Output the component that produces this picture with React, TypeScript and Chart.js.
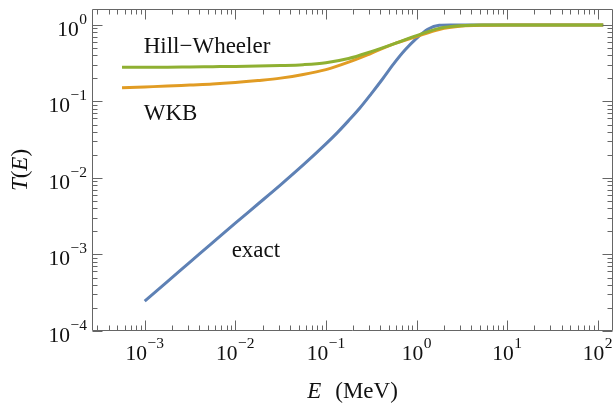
import React, { useEffect, useRef } from 'react';
import { Chart, registerables } from 'chart.js';

Chart.register(...registerables);

// ---- data ----
const energyApprox = [5.62e-4, 1e-3, 1.78e-3, 3.16e-3, 5.62e-3, 0.01, 0.0178, 0.0316, 0.0562, 0.1, 0.178, 0.316, 0.562, 1, 1.78, 3.16, 5.62, 10, 115];
const hillWheeler = [0.28, 0.28, 0.281, 0.283, 0.285, 0.287, 0.29, 0.295, 0.303, 0.321, 0.364, 0.448, 0.566, 0.726, 0.904, 0.979, 0.998, 1.0, 1.0];
const wkb = [0.151, 0.155, 0.159, 0.164, 0.169, 0.177, 0.188, 0.202, 0.225, 0.261, 0.327, 0.427, 0.566, 0.708, 0.875, 0.967, 0.993, 1.0, 1.0];
const energyExact = [1e-3, 1.78e-3, 3.16e-3, 5.62e-3, 0.01, 0.0178, 0.0316, 0.0562, 0.1, 0.133, 0.178, 0.237, 0.316, 0.422, 0.562, 0.75, 1, 1.33, 1.78, 2.37, 3.16, 10, 115];
const exact = [2.45e-4, 4.42e-4, 7.94e-4, 1.43e-3, 2.57e-3, 4.57e-3, 8.13e-3, 0.0148, 0.0279, 0.0389, 0.0562, 0.0822, 0.1259, 0.1968, 0.312, 0.473, 0.668, 0.879, 0.991, 1.0, 1.0, 1.0, 1.0];

// tick labels (powers of ten)
const xTickExponents = [-3, -2, -1, 0, 1, 2];
const yTickExponents = [-4, -3, -2, -1, 0];

// curve labels: [text, E, T] (left end of baseline)
const curveLabels: [string, number, number][] = [
  ['Hill\u2212Wheeler', 1e-3, 0.43],
  ['WKB', 1e-3, 0.0573],
  ['exact', 9.35e-3, 9.4e-4],
];

const X_MIN = 2.62e-4;
const X_MAX = 147.5;
const Y_MIN = 1e-4;
const Y_MAX = 1.618;

const BLUE = '#5E81B5';
const ORANGE = '#E19C24';
const GREEN = '#8FB032';
const FRAME = '#666666';
const TEXT = '#111111';
const FONT = '"Liberation Serif", "DejaVu Serif", serif';

function minorTicks(min: number, max: number): number[] {
  const out: number[] = [];
  for (let n = Math.floor(Math.log10(min)); n <= Math.ceil(Math.log10(max)); n++) {
    for (let k = 2; k <= 9; k++) {
      const v = k * Math.pow(10, n);
      if (v >= min && v <= max) out.push(v);
    }
  }
  return out;
}

function expText(e: number): string {
  return e < 0 ? '\u2212' + String(-e) : String(e);
}

function drawPower(ctx: CanvasRenderingContext2D, e: number, ax: number, baseline: number, align: 'center' | 'right') {
  const main = `21.5px ${FONT}`;
  const sup = `15.5px ${FONT}`;
  ctx.font = main;
  const w1 = ctx.measureText('10').width;
  ctx.font = sup;
  const s = expText(e);
  const w2 = ctx.measureText(s).width;
  const total = w1 + w2 + 0.5;
  const start = align === 'center' ? ax - total / 2 : ax - total;
  ctx.textAlign = 'left';
  ctx.textBaseline = 'alphabetic';
  ctx.font = main;
  ctx.fillText('10', start, baseline);
  ctx.font = sup;
  ctx.fillText(s, start + w1 + 0.5, baseline - 12);
}

const framePlugin = {
  id: 'mmaFrame',
  afterDraw(chart: any) {
    const { ctx, chartArea } = chart;
    const { left, right, top, bottom } = chartArea;
    const xs = chart.scales.x;
    const ys = chart.scales.y;
    const L = Math.round(left) + 0.5;
    const R = Math.round(right) - 0.5;
    const T = Math.round(top) + 0.5;
    const B = Math.round(bottom) - 0.5;
    ctx.save();
    ctx.strokeStyle = FRAME;
    ctx.lineWidth = 1;
    ctx.beginPath();
    ctx.rect(L, T, R - L, B - T);
    ctx.stroke();
    const tick = (len: number, pos: number, horizontal: boolean) => {
      const p = Math.round(pos) + 0.5;
      ctx.beginPath();
      if (horizontal) {
        ctx.moveTo(p, B); ctx.lineTo(p, B - len);
        ctx.moveTo(p, T); ctx.lineTo(p, T + len);
      } else {
        ctx.moveTo(L, p); ctx.lineTo(L + len, p);
        ctx.moveTo(R, p); ctx.lineTo(R - len, p);
      }
      ctx.stroke();
    };
    xTickExponents.forEach((e) => tick(10, xs.getPixelForValue(Math.pow(10, e)), true));
    minorTicks(X_MIN, X_MAX).forEach((v) => tick(5, xs.getPixelForValue(v), true));
    yTickExponents.forEach((e) => tick(10, ys.getPixelForValue(Math.pow(10, e)), false));
    minorTicks(Y_MIN, Y_MAX).forEach((v) => tick(5, ys.getPixelForValue(v), false));

    ctx.fillStyle = TEXT;
    xTickExponents.forEach((e) => drawPower(ctx, e, xs.getPixelForValue(Math.pow(10, e)), bottom + 29, 'center'));
    yTickExponents.forEach((e) => drawPower(ctx, e, left - 5, ys.getPixelForValue(Math.pow(10, e)) + 11, 'right'));
    ctx.restore();
  },
};

const labelPlugin = {
  id: 'mmaLabels',
  afterDraw(chart: any) {
    const { ctx, chartArea } = chart;
    const { left, right, top, bottom } = chartArea;
    const xs = chart.scales.x;
    const ys = chart.scales.y;
    ctx.save();
    ctx.fillStyle = TEXT;
    ctx.textBaseline = 'alphabetic';
    ctx.textAlign = 'left';

    ctx.font = `23px ${FONT}`;
    curveLabels.forEach(([t, ex, ty]) => {
      ctx.fillText(t, xs.getPixelForValue(ex) - 1, ys.getPixelForValue(ty));
    });

    const it = `italic 23px ${FONT}`;
    const up = `23px ${FONT}`;
    ctx.font = it;
    const wE = ctx.measureText('E').width;
    ctx.font = up;
    const unit = '(MeV)';
    const wU = ctx.measureText(unit).width;
    const gap = 14;
    const cx = (left + right) / 2;
    const sx = cx - (wE + gap + wU) / 2;
    ctx.font = it;
    ctx.fillText('E', sx, bottom + 67);
    ctx.font = up;
    ctx.fillText(unit, sx + wE + gap, bottom + 67);

    const parts: [string, string][] = [['T', it], ['(', up], ['E', it], [')', up]];
    let total = 0;
    const widths = parts.map(([s, f]) => { ctx.font = f; const w = ctx.measureText(s).width; total += w; return w; });
    ctx.translate(27, (top + bottom) / 2);
    ctx.rotate(-Math.PI / 2);
    let px = -total / 2;
    parts.forEach(([s, f], i) => {
      ctx.font = f;
      ctx.fillText(s, px, 0);
      px += widths[i];
    });
    ctx.restore();
  },
};

export default function App() {
  const ref = useRef<HTMLCanvasElement | null>(null);
  useEffect(() => {
    if (!ref.current) return;
    const toXY = (xsArr: number[], ysArr: number[]) => xsArr.map((x, i) => ({ x, y: ysArr[i] }));
    const chart = new Chart(ref.current, {
      type: 'line',
      data: {
        datasets: [
          { label: 'Hill\u2212Wheeler', data: toXY(energyApprox, hillWheeler), borderColor: GREEN },
          { label: 'WKB', data: toXY(energyApprox, wkb), borderColor: ORANGE },
          { label: 'exact', data: toXY(energyExact, exact), borderColor: BLUE },
        ].map((d) => ({
          ...d,
          borderWidth: 3,
          pointRadius: 0,
          fill: false,
          cubicInterpolationMode: 'monotone' as const,
        })),
      },
      options: {
        animation: false,
        responsive: false,
        events: [],
        layout: { padding: { left: 92, right: 1, top: 9, bottom: 72 } },
        plugins: { legend: { display: false }, tooltip: { enabled: false } },
        scales: {
          x: { type: 'logarithmic', min: X_MIN, max: X_MAX, display: false },
          y: { type: 'logarithmic', min: Y_MIN, max: Y_MAX, display: false },
        },
      },
      plugins: [framePlugin, labelPlugin],
    });
    return () => chart.destroy();
  }, []);
  return (
    <div style={{ position: 'fixed', left: 0, top: 0, width: 614, height: 403, background: '#fff' }}>
      <canvas ref={ref} width={614} height={403} style={{ display: 'block' }} />
    </div>
  );
}
